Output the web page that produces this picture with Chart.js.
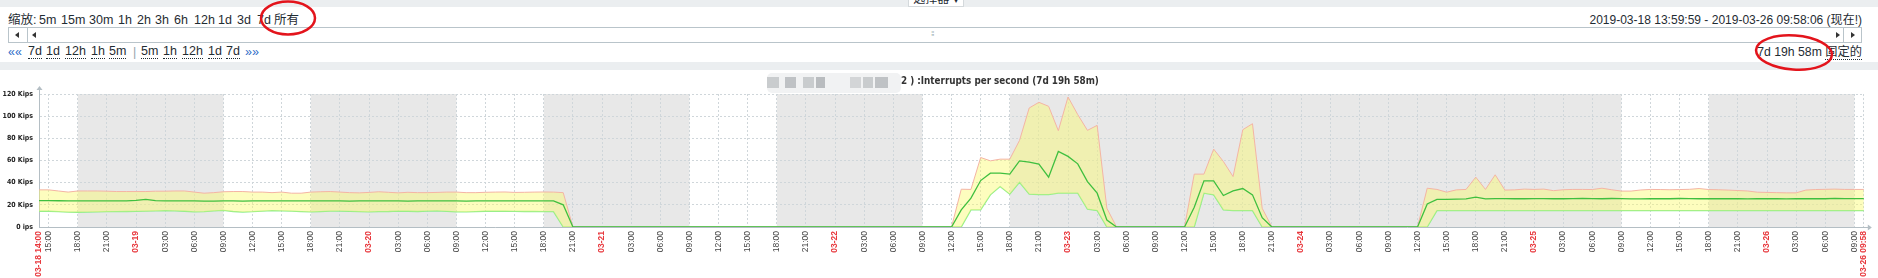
<!DOCTYPE html>
<html>
<head>
<meta charset="utf-8">
<script src="https://cdn.jsdelivr.net/npm/chart.js@4/dist/chart.umd.min.js"></script>
<style>
body{margin:0;width:1878px;height:278px;overflow:hidden;background:#fff;position:relative;
  font-family:'Liberation Sans',Arial,'Noto Sans CJK SC',sans-serif;color:#1f2c33}
.strip{position:absolute;left:0;width:1878px;background:#ebeef0}
.t{position:absolute;font-size:12.5px;line-height:16px;white-space:nowrap}
.u{border-bottom:1px dotted #1f2c33;line-height:14px}
.b{color:#2e6cc7}
.tri{position:absolute;width:0;height:0;border-top:3px solid transparent;border-bottom:3px solid transparent}
.l{border-right:4px solid #333}
.r{border-left:4px solid #333}
#title{position:absolute;left:901px;top:75px;font-weight:bold;font-size:11px;font-family:'Liberation Sans Narrow','DejaVu Sans Condensed','Liberation Sans',sans-serif;color:#333;white-space:nowrap}
#blur{position:absolute;left:767px;top:73px;width:134px;height:20px;background:#f1f2f3;border-radius:5px}
#blur i{position:absolute;top:4px;height:11px;background:#c9ccce}
</style>
</head>
<body>
<div class="strip" style="top:0;height:7px"></div>
<div style="position:absolute;left:908px;top:-8px;width:54px;height:13px;background:#fff;border:1px solid #d4d9dc;font-size:12px;line-height:13px;text-align:center;overflow:hidden">选择器 ▾</div>
<div class="strip" style="top:62px;height:8px"></div>

<div class="t" style="left:8px;top:12px">缩放:</div>
<div class="t" style="left:39px;top:12px">5m</div>
<div class="t" style="left:61px;top:12px">15m</div>
<div class="t" style="left:89px;top:12px">30m</div>
<div class="t" style="left:118px;top:12px">1h</div>
<div class="t" style="left:137px;top:12px">2h</div>
<div class="t" style="left:155px;top:12px">3h</div>
<div class="t" style="left:174px;top:12px">6h</div>
<div class="t" style="left:194px;top:12px">12h</div>
<div class="t" style="left:218px;top:12px">1d</div>
<div class="t" style="left:237px;top:12px">3d</div>
<div class="t" style="left:257px;top:12px">7d</div>
<div class="t" style="left:274px;top:12px">所有</div>
<div class="t" id="range" style="right:16px;top:12px;font-size:12px">2019-03-18 13:59:59 - 2019-03-26 09:58:06 (现在!)</div>

<div style="position:absolute;left:8px;top:27px;width:1852px;height:14px;border:1px solid #b9c4ca"></div>
<div style="position:absolute;left:27px;top:27px;width:1px;height:16px;background:#b9c4ca"></div>
<div style="position:absolute;left:1843px;top:27px;width:1px;height:16px;background:#b9c4ca"></div>
<div class="tri l" style="left:15px;top:32px"></div>
<div class="tri l" style="left:32px;top:32px"></div>
<div class="tri r" style="left:1836px;top:32px"></div>
<div class="tri r" style="left:1851px;top:32px"></div>
<div style="position:absolute;left:931px;top:29px;font-size:8px;color:#9aa;letter-spacing:-1px">⁞⁞</div>

<div class="t b" style="left:8px;top:44px">««</div>
<div class="t u" style="left:28px;top:44px">7d</div>
<div class="t u" style="left:46px;top:44px">1d</div>
<div class="t u" style="left:65px;top:44px">12h</div>
<div class="t u" style="left:91px;top:44px">1h</div>
<div class="t u" style="left:109px;top:44px">5m</div>
<div class="t" style="left:133px;top:44px;color:#9aa5ab">|</div>
<div class="t u" style="left:141px;top:44px">5m</div>
<div class="t u" style="left:163px;top:44px">1h</div>
<div class="t u" style="left:182px;top:44px">12h</div>
<div class="t u" style="left:208px;top:44px">1d</div>
<div class="t u" style="left:226px;top:44px">7d</div>
<div class="t b" style="left:245px;top:44px">»»</div>
<div class="t" id="period" style="right:16px;top:44px;font-size:12px">7d 19h 58m <span class="u">固定的</span></div>

<canvas id="c" width="1878" height="208" style="position:absolute;left:0;top:70px"></canvas>

<div id="blur"><i style="left:0;width:12px"></i><i style="left:18px;width:11px;background:#bfc2c5"></i><i style="left:36px;width:11px"></i><i style="left:49px;width:9px;background:#b9bcbf"></i><i style="left:83px;width:11px;background:#d3d5d7"></i><i style="left:96px;width:10px"></i><i style="left:108px;width:13px;background:#bfc2c5"></i></div>
<div id="title">2 ) :Interrupts per second (7d 19h 58m)</div>

<svg width="1878" height="278" style="position:absolute;left:0;top:0;pointer-events:none">
  <ellipse cx="288" cy="18" rx="27" ry="16.5" fill="none" stroke="#e3141c" stroke-width="2.5"/>
  <ellipse cx="1794" cy="52.5" rx="38" ry="17" fill="none" stroke="#e3141c" stroke-width="2.5" transform="rotate(4 1794 52.5)"/>
</svg>

<script>
// hourly trend values, K interrupts/s, starting 2019-03-18 14:00
const startTime = Date.UTC(2019, 2, 18, 14, 0);
const endHour = 187.97; // 2019-03-26 09:58
const maxK = [
  33.5, 33.5, 32.5, 31.5, 32.5, 32.5, 32.5, 32.3, 32, 32,
  32, 32, 32.3, 32.3, 32.5, 32.5, 31.5, 30.5, 31, 31.8,
  32, 32, 31.5, 31.5, 31, 31.5, 30.5, 30.5, 31.5, 31.8,
  32, 31.5, 31, 30.8, 31.2, 31.8, 31.3, 30.8, 31.3, 31,
  31, 31.2, 31.5, 31.5, 31, 31, 31.3, 31.5, 31.6, 31.2,
  31.3, 31.5, 31.6, 31.5, 31,
  0, 0, 0, 0, 0, 0, 0, 0, 0, 0, 0, 0, 0, 0, 0, 0, 0, 0, 0, 0,
  0, 0, 0, 0, 0, 0, 0, 0, 0, 0, 0, 0, 0, 0, 0, 0, 0, 0, 0,
  0, 34.1, 33.9, 62.7, 59.7, 61.2, 61.2, 78.1, 107.4, 112.5,
  108.9, 86.9, 117.3, 101.4, 87.2, 91.7, 16.9, 0,
  0, 0, 0, 0, 0, 0,
  0, 47.7, 47.7, 70.3, 59.1, 45.5, 87.8, 93.2, 16.9, 0,
  0, 0, 0, 0, 0, 0, 0, 0, 0, 0, 0, 0, 0, 0,
  0, 35, 33.9, 31.4, 33.5, 33.9, 45, 33.9, 47.1, 33.3,
  33.5, 34.2, 33.9, 34.2, 32.8, 33.6, 33.9, 33.9, 33.8, 35,
  33.6, 32.4, 32.4, 33.4, 33.9, 33.8, 33.6, 33.8, 34, 34.7,
  33.8, 33.6, 33.3, 32.9, 32.5, 31.4, 31.2, 31, 30.8, 30.8,
  33.3, 33.8, 34, 34.2, 33.9, 33.9, 33.9
];
const avgK = [
  23.8, 23.8, 23.7, 23.6, 23.6, 23.5, 23.5, 23.6, 23.5, 23.6,
  24.0, 25.0, 23.8, 23.5, 23.5, 23.6, 23.5, 23.3, 23.4, 23.5,
  23.6, 23.4, 23.5, 23.6, 23.5, 23.5, 23.6, 23.6, 23.5, 23.5,
  23.6, 23.5, 23.4, 23.5, 23.5, 23.6, 23.5, 23.5, 23.4, 23.5,
  23.5, 23.6, 23.5, 23.5, 23.4, 23.5, 23.5, 23.6, 23.5, 23.5,
  23.5, 23.5, 23.5, 23.5, 20,
  0, 0, 0, 0, 0, 0, 0, 0, 0, 0, 0, 0, 0, 0, 0, 0, 0, 0, 0, 0,
  0, 0, 0, 0, 0, 0, 0, 0, 0, 0, 0, 0, 0, 0, 0, 0, 0, 0, 0,
  0, 15.4, 26.0, 41.9, 48.6, 48.6, 47.7, 59.7, 58.5, 56.7,
  45.0, 68.2, 63.7, 57.0, 41.0, 30.5, 6.3, 0,
  0, 0, 0, 0, 0, 0,
  0, 17.8, 41.6, 41.6, 28.4, 32.6, 34.7, 29.0, 8.4, 0,
  0, 0, 0, 0, 0, 0, 0, 0, 0, 0, 0, 0, 0, 0,
  0, 20.8, 25.0, 25.0, 25.2, 25.3, 26.9, 25.3, 25.6, 25.6,
  25.5, 25.5, 25.6, 25.6, 25.5, 25.5, 25.6, 25.9, 25.6, 25.5,
  25.7, 25.6, 25.4, 25.4, 25.6, 25.5, 25.5, 25.7, 25.6, 25.5,
  25.6, 25.5, 25.6, 25.5, 25.4, 25.5, 25.6, 25.5, 25.4, 25.6,
  25.5, 25.6, 25.5, 25.8, 25.6, 25.6, 25.6
];
const minK = [
  14.2, 14.2, 13.8, 13.4, 13.3, 13.5, 13.6, 13.8, 13.9, 14.0,
  14.1, 14.3, 14.5, 14.8, 14.6, 14.2, 13.7, 13.8, 14.5, 15.0,
  14.0, 13.5, 13.8, 14.3, 14.8, 14.6, 14.3, 13.9, 13.6, 13.9,
  14.3, 14.4, 14.1, 13.8, 13.6, 13.9, 14.0, 14.3, 14.2, 14.0,
  14.4, 14.6, 14.1, 13.7, 13.6, 13.9, 14.2, 14.2, 14.3, 14.1,
  14.0, 14.0, 13.9, 13.9, 0,
  0, 0, 0, 0, 0, 0, 0, 0, 0, 0, 0, 0, 0, 0, 0, 0, 0, 0, 0, 0,
  0, 0, 0, 0, 0, 0, 0, 0, 0, 0, 0, 0, 0, 0, 0, 0, 0, 0, 0,
  0, 0, 15.4, 15.4, 29.0, 36.5, 29.6, 40.4, 29.6, 29.3,
  29.3, 30.5, 30.5, 30.5, 16.0, 14.8, 0, 0,
  0, 0, 0, 0, 0, 0,
  0, 0, 30.5, 29.0, 15.4, 14.8, 14.8, 14.8, 0, 0,
  0, 0, 0, 0, 0, 0, 0, 0, 0, 0, 0, 0, 0, 0,
  0, 0, 14.8, 14.8, 14.8, 14.8, 14.8, 14.8, 14.8, 14.8,
  14.8, 14.8, 14.8, 14.8, 14.8, 14.8, 14.8, 14.8, 14.8, 14.8,
  14.8, 14.8, 14.8, 14.8, 14.8, 14.8, 14.8, 14.8, 14.8, 14.8,
  14.8, 14.8, 14.8, 14.8, 14.8, 14.8, 14.8, 14.8, 14.8, 14.8,
  14.8, 14.8, 14.8, 14.8, 14.8, 14.8, 14.8
];
// working time (white background), hours from start
const workTime = [[0, 4], [19, 28], [43, 52], [67, 76], [91, 100], [163, 172], [187, endHour]];

const tickHours = [0];
for (let h = 1; h <= 187; h += 3) tickHours.push(h);
tickHours.push(endHour);

const pad = n => String(n).padStart(2, '0');
function timeAt(h) {
  const d = new Date(startTime + Math.round(h * 60) * 60000);
  return { md: pad(d.getUTCMonth() + 1) + '-' + pad(d.getUTCDate()), hm: pad(d.getUTCHours()) + ':' + pad(d.getUTCMinutes()), hr: d.getUTCHours() };
}
const isRed = v => v === 0 || v === endHour || timeAt(v).hr === 0;
function tickLabel(v) {
  const t = timeAt(v);
  if (v === 0 || v === endHour) return t.md + ' ' + t.hm;
  return t.hr === 0 ? t.md : t.hm;
}

// pick a narrow font if one is installed
const g = document.createElement('canvas').getContext('2d');
function pickFont(list) {
  const s = 'Kips 0123 abcxyz';
  for (const f of list) {
    g.font = '30px monospace';
    const a = g.measureText(s).width;
    g.font = `30px '${f}', monospace`;
    if (g.measureText(s).width !== a) return f;
  }
  return null;
}
const narrow = pickFont(['Liberation Sans Narrow', 'DejaVu Sans Condensed', 'Arial Narrow']);
const FX = "'Liberation Sans',sans-serif";
const FY = narrow ? `'${narrow}','Liberation Sans',sans-serif` : FX;
g.font = 'bold 10px ' + FY;
const ySize = Math.min(9.5, 10 * 30.5 / g.measureText('120 Kips').width);

// fit html texts to the widths seen in the reference
function fit(id, w) {
  const el = document.getElementById(id);
  const fs = parseFloat(getComputedStyle(el).fontSize);
  el.style.fontSize = (fs * w / el.getBoundingClientRect().width) + 'px';
}
fit('title', 198);
fit('range', 273);
fit('period', 105);

const pts = arr => arr.map((v, i) => ({ x: i, y: v }));
const red = c => !!(c.tick && isRed(c.tick.value));

const zabbixBg = {
  id: 'zabbixBg',
  beforeDraw(c) {
    const { ctx, chartArea: a, scales: { x } } = c;
    ctx.save();
    ctx.fillStyle = '#e8e8e8';
    ctx.fillRect(a.left, a.top, a.width, a.height);
    ctx.fillStyle = '#ffffff';
    workTime.forEach(([s, e]) => {
      const x1 = x.getPixelForValue(s), x2 = x.getPixelForValue(e);
      ctx.fillRect(x1, a.top, x2 - x1, a.height);
    });
    ctx.restore();
  },
  afterDraw(c) {
    const { ctx, chartArea: a } = c;
    ctx.save();
    ctx.strokeStyle = '#b4bec4';
    ctx.fillStyle = '#b4bec4';
    ctx.lineWidth = 1;
    ctx.beginPath();
    ctx.moveTo(a.left + 0.5, a.top);
    ctx.lineTo(a.left + 0.5, a.top - 5);
    ctx.moveTo(a.right, a.bottom + 0.5);
    ctx.lineTo(a.right + 5, a.bottom + 0.5);
    ctx.stroke();
    ctx.beginPath();
    ctx.moveTo(a.left - 2.5, a.top - 4);
    ctx.lineTo(a.left + 0.5, a.top - 8);
    ctx.lineTo(a.left + 3.5, a.top - 4);
    ctx.fill();
    ctx.beginPath();
    ctx.moveTo(a.right + 4, a.bottom - 2.5);
    ctx.lineTo(a.right + 8, a.bottom + 0.5);
    ctx.lineTo(a.right + 4, a.bottom + 3.5);
    ctx.fill();
    ctx.restore();
  }
};

new Chart(document.getElementById('c'), {
  type: 'line',
  data: {
    datasets: [
      { label: 'max', data: pts(maxK), borderColor: '#f4b4a4', borderWidth: 1, fill: 2, backgroundColor: 'rgba(250,250,110,0.45)', order: 1 },
      { label: 'avg', data: pts(avgK), borderColor: '#3fbf3f', borderWidth: 1.3, fill: false, order: 0 },
      { label: 'min', data: pts(minK), borderColor: '#8ded8d', borderWidth: 1.3, fill: false, order: 2 }
    ]
  },
  options: {
    responsive: false,
    animation: false,
    layout: { padding: { top: 24, right: 10.3, left: 0, bottom: 0 } },
    plugins: { legend: { display: false }, tooltip: { enabled: false } },
    elements: { point: { radius: 0 }, line: { tension: 0 } },
    scales: {
      x: {
        type: 'linear', min: 0, max: endHour,
        afterBuildTicks: s => { s.ticks = tickHours.map(v => ({ value: v })); },
        afterFit: s => { s.height = 51; },
        grid: { color: '#cfd6da', drawTicks: false },
        border: { color: '#b4bec4', dash: [2, 2] },
        ticks: {
          autoSkip: false, minRotation: 90, maxRotation: 90, padding: 4,
          callback: v => tickLabel(v),
          color: c => red(c) ? '#e8383d' : '#444',
          font: c => ({ family: FX, size: 8.5, weight: red(c) ? 'bold' : 'normal' })
        }
      },
      y: {
        min: 0, max: 120,
        afterFit: s => { s.width = 39; },
        grid: { color: '#cfd6da', drawTicks: false },
        border: { color: '#b4bec4', dash: [2, 2] },
        ticks: {
          stepSize: 10, padding: 6, color: '#222',
          font: { family: FY, size: ySize, weight: 'bold' },
          callback: v => v % 20 ? '' : (v === 0 ? '0 ips' : v + ' Kips')
        }
      }
    }
  },
  plugins: [zabbixBg]
});
</script>
</body>
</html>
